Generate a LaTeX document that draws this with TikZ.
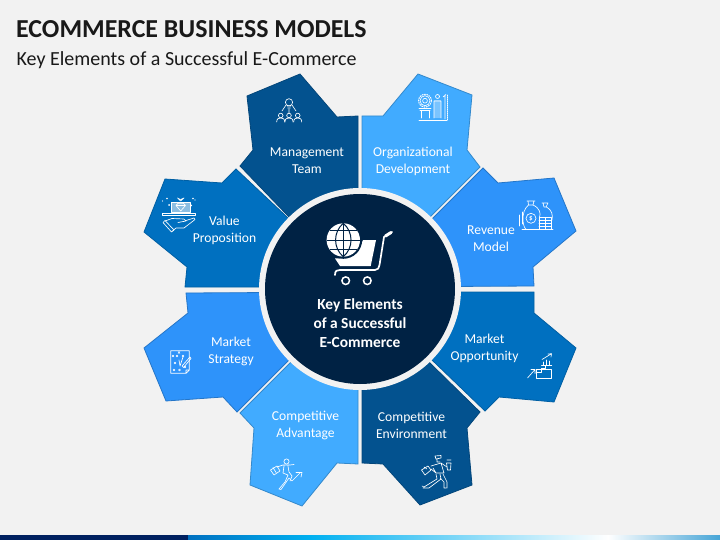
\documentclass[tikz,border=0pt]{standalone}
\usepackage{fontspec}
\setmainfont{Carlito}
\definecolor{bg}{HTML}{F2F2F2}
\definecolor{cNavy}{HTML}{03528F}
\definecolor{cSky}{HTML}{41ABFF}
\definecolor{cBlue}{HTML}{2E93FA}
\definecolor{cMid}{HTML}{0070C0}
\definecolor{cCore}{HTML}{002244}
\definecolor{cBarDark}{HTML}{002060}
\definecolor{cBarCyan}{HTML}{00B0F0}
\definecolor{cBarEnd}{HTML}{46A5D7}
\tikzset{
  petal/.style={line width=0.8pt,line join=miter},
  lbl/.style={text=white,align=center,font=\fontsize{13.6}{17}\selectfont,inner sep=0pt},
  ico/.style={draw=white,line width=0.65pt,line cap=round,line join=round},
}
\begin{document}
\begin{tikzpicture}[x=1pt,y=-1pt]
\path[use as bounding box,fill=bg] (0,0) rectangle (720,540);
% footer bar
\shade[left color=cMid,right color=cBarCyan] (188,535) rectangle (310,540);
\shade[left color=cBarCyan,right color=white] (309.8,535) rectangle (608,540);
\shade[left color=white,right color=cBarEnd] (607.8,535) rectangle (720,540);
\fill[cBarDark] (0,535) rectangle (188,540);
% title
\node[anchor=west,inner sep=0pt,font=\fontsize{25.9}{29}\selectfont\bfseries,text=black!90] (title) at (16,29) {ECOMMERCE BUSINESS MODELS};
\node[anchor=west,inner sep=0pt,font=\fontsize{20}{24}\selectfont,text=black!90] (subtitle) at (16.5,60) {Key Elements of a Successful E-Commerce};
% petals
\filldraw[petal,fill=cNavy,draw=cNavy!85!black] (290,218)--(240,166)--(253,150)--(247,96)--(300,74)--(337,117)--(358,116)--(358,289)--cycle;
\filldraw[petal,fill=cSky,draw=cSky!80!black] (430,217)--(480,167)--(467,150)--(472,95)--(418,74)--(383,116)--(362,116)--(362,289)--cycle;
\filldraw[petal,fill=cBlue,draw=cBlue!80!black] (433,218)--(483,168)--(498,183)--(554,178)--(576,231)--(533,267)--(534,286)--(360,287)--cycle;
\filldraw[petal,fill=cMid,draw=cMid!85!black] (360,292)--(534,292)--(534,313)--(576,348)--(554,402)--(499,397)--(485,411)--(433,361)--cycle;
\filldraw[petal,fill=cNavy,draw=cNavy!85!black] (362,290)--(362,463)--(383,464)--(420,505)--(472,485)--(467,428)--(480,412)--(430,363)--cycle;
\filldraw[petal,fill=cSky,draw=cSky!80!black] (358,290)--(358,464)--(337,463)--(302,506)--(250,485)--(254,428)--(240,413)--(290,363)--cycle;
\filldraw[petal,fill=cBlue,draw=cBlue!80!black] (360,292)--(186,293)--(188,313)--(144,348)--(166,401)--(223,397)--(237,412)--(287,362)--cycle;
\filldraw[petal,fill=cMid,draw=cMid!85!black] (287,217)--(236,169)--(222,183)--(165,179)--(144,232)--(187,267)--(185,287)--(360,287)--cycle;
% hub
\fill[bg] (360,289) circle[radius=101pt];
\fill[cCore] (360,289) circle[radius=95pt];
% labels
\node[lbl] (mgmt) at (307,161) {Management\\Team};
\node[lbl] (org) at (413,161) {Organizational\\Development};
\node[lbl] (rev) at (491,239) {Revenue\\Model};
\node[lbl] (opp) at (484.5,348.5) {Market\\Opportunity};
\node[lbl] (env) at (411.5,425) {Competitive\\Environment};
\node[lbl] (adv) at (305.5,425) {Competitive\\Advantage};
\node[lbl] (str) at (231,351) {Market\\Strategy};
\node[lbl] (val) at (224.5,230.5) {Value\\Proposition};
\node[text=white,align=center,inner sep=0pt,font=\fontsize{15.4}{19}\selectfont\bfseries] (hub) at (360,323) {Key Elements\\of a Successful\\E-Commerce};
% cart icon
\fill[white] (363,240)--(376,240)--(370.7,266)--(340,266)--(335,258.5)--(345,258)--(358,252)--cycle;
\draw[white,line width=1.7pt,line cap=round,line join=round] (335,275)..controls (335,270.5) and (337,270)..(340,270)--(375,270)..controls (378,270) and (379,268)..(379.5,265)--(384,237)--(392,232);
\draw[white,line width=3pt,line cap=round] (385.5,236)--(391,232.5);
\draw[white,line width=1.5pt] (345.7,280.7) circle[radius=3.8pt] (367.3,280.7) circle[radius=3.8pt];
\fill[cCore] (343.3,240) circle[radius=18.8pt];
\fill[white] (343.3,240) circle[radius=16.7pt];
\draw[cCore,line width=1pt] (343.3,223.3)--(343.3,256.7) (326.6,240)--(360,240) (330,231)--(356.6,231) (330,249)--(356.6,249);
\draw[cCore,line width=1pt] (343.3,223.3)..controls (333,232) and (333,248)..(343.3,256.7) (343.3,223.3)..controls (353.6,232) and (353.6,248)..(343.3,256.7);
% management icon
\draw[ico] (289,102.3) circle[radius=3.6pt] (287.3,106)--(290.7,106) (287.8,108)--(290.2,108);
\draw[ico] (289,109)--(289,113) (286,105)--(282,111) (292,105)--(296,111);
\foreach \px in {280.7,289,297.7}{
  \draw[ico] (\px,115.5) circle[radius=2.3pt];
  \draw[ico] (\px-4,122)..controls (\px-4,118.5) and (\px-2,118)..(\px,118)..controls (\px+2,118) and (\px+4,118.5)..(\px+4,122);
}
% organizational icon
\draw[ico] (425,100.7) circle[radius=5pt] (425,100.7) circle[radius=2.4pt];
\draw[ico,dash pattern=on 1pt off 1.4pt,line width=1pt] (425,100.7) circle[radius=6.4pt];
\draw[ico] (419,108)--(431,108) (420,110.5)--(430,110.5) (421,110.5)--(421,118) (429,110.5)--(429,118) (419,120)--(447,120);
\fill[white,opacity=.3] (434,100)--(441,100)--(441,118)--(434,118)--cycle;
\draw[ico] (437.5,96.5) circle[radius=2pt] (434,118)--(434,101)--(441,101)--(441,118);
\draw[ico] (445,95)--(445,119) (443,97)--(446,94.5);
\draw[ico,dash pattern=on 1pt off 1pt] (447,95)--(447,120);
% value icon
\fill[white,opacity=.55] (171.7,202)rectangle(190,212.5);
\draw[ico] (171.7,202)rectangle(190,212.5);
\draw[ico] (176,205.5)--(180.7,211)--(185.5,205.5)--(183.5,203.3)--(178,203.3)--cycle (176,205.5)--(185.5,205.5);
\draw[ico] (180.5,201)--(177.5,198)--(180.5,199.5)--(184,198)--(180.5,201);
\draw[ico] (162.7,213.5)rectangle(195,215.5);
\draw[ico] (163,222.5)--(165,220.5)--(174,230)--(171.5,232)--cycle;
\draw[ico] (165,221)--(172,218.5)--(184,219)--(186,221)--(178,222.5) (186,220.5)--(194,218)--(195,219.5)--(184,228)--(176,228)--(172.5,231);
\fill[white] (167,198.5) circle[radius=.8pt] (193,198.5) circle[radius=.8pt] (162.5,201) circle[radius=.6pt] (169,205) circle[radius=1pt] (191,205.5) circle[radius=1pt] (195,200) circle[radius=.6pt];
% revenue icon
\draw[ico] (527,201)--(535,201) (528,201)--(528.5,205) (534,201)--(533,205) (528.5,205)--(533,205);
\draw[ico] (528.5,205)..controls(520,212)and(523,228)..(526,229) (533,205)..controls(540,208)and(541,214)..(539.5,217);
\draw[ico] (531,218.3) circle[radius=5pt];
\node[text=white,inner sep=0pt,font=\fontsize{7}{7}\selectfont\bfseries] (dollar) at (531,218.3) {\$};
\draw[ico] (542,203)--(548,203) (543,203)--(544,207) (548,203)--(546,207) (544,207)--(546.5,207);
\draw[ico] (546.5,207)..controls(552,210)and(553,215)..(552,220);
\draw[ico] (539,217)rectangle(545,229) (545,217)rectangle(551,229) (539,220)--(551,220) (539,223)--(551,223) (539,226)--(551,226);
\draw[ico] (522,229)--(553,229) (522,212)--(522,224) (519.5,215)--(519.5,226);
% opportunity icon
\draw[ico] (536,378.5)rectangle(551.7,369) (536,372)--(541,372)--(541,368)--(545,368)--(545,365.5);
\draw[ico] (527.5,378)--(535,369.5) (531,369.5)--(535,369.5)--(535,373.5);
\draw[ico] (541.5,365)--(551.7,365) (543,365)--(543,362) (546,365)--(546,360) (549,365)--(549,361);
\draw[ico] (542,359.5)--(551,354) (548,354)--(551.5,353.7)--(551,357);
% strategy icon
\draw[ico] (170.7,350.7)--(189.3,350.7)--(189.3,370)--(186,373.3)--(170.7,373.3)--cycle (189.3,370)--(186,370)--(186,373.3);
\draw[ico] (172,355)--(174,357) (174,355)--(172,357) (178,351.5)--(180,353.5) (180,351.5)--(178,353.5) (174,362)--(176,364) (176,362)--(174,364) (184,366)--(186,368) (186,366)--(184,368);
\draw[ico] (174,370) circle[radius=1pt] (179.5,370) circle[radius=1pt] (177,356) circle[radius=1pt] (183,356) circle[radius=1pt];
\draw[ico] (179,360)--(180,366)--(183,357);
\draw[ico] (182,366)--(190,357)--(191,358.5)--(183.5,367.5)--cycle;
% environment icon
\draw[ico] (435,456)--(441,455.5)--(441,458)--(436,459)--cycle (437,459)--(437,462)--(440,462);
\draw[ico] (447,460)--(451,460) (446.5,463)--(451,463)--(450.5,470)--(447.5,470)--cycle;
\draw[ico] (431,466)--(441,463)--(447,467) (431,469)--(436,473) (441,463)--(444,473)--(436,473)--(433,468);
\draw[ico] (421.5,470)--(428,466)--(431,470)--(425,475)--cycle (424,467)--(427,469);
\draw[ico] (436,474)--(437,479)--(424,487)--(422,486)  (440,474)--(441,479)--(429,488)--(423,488);
\draw[ico] (440,478)--(444,482)--(444,488)--(446,488) (443,474)--(447,482)--(447,488);
% advantage icon
\draw[ico] (286.5,461.5) circle[radius=2.6pt];
\draw[ico] (277,467)--(283,465)--(290,465)--(294,464.5) (284,466)--(283,473)--(288,475)--(285,482)--(279,489) (288,466)--(289,472)--(292,476)--(290,481);
\draw[ico] (270.5,470)--(277,466)--(280,471)--(274,475)--cycle (273,467.5)--(276,472.5);
\draw[ico] (279,489)--(281,489.5)--(289,478)--(292,481)--(300,473);
\draw[ico] (296,472.5)--(302,472.5)--(301,477);
\end{tikzpicture}
\end{document}
